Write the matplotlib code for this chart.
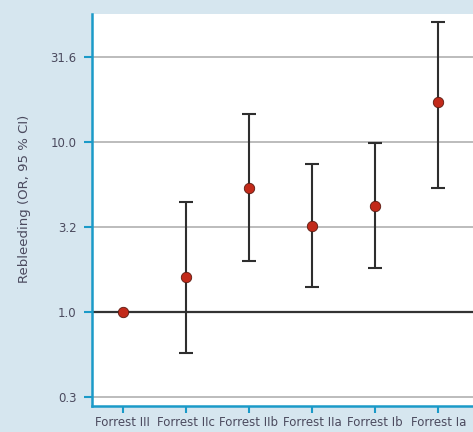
import matplotlib
matplotlib.use("Agg")
import matplotlib.pyplot as plt
import numpy as np

plt.rcParams['font.family'] = ['DejaVu Sans Condensed', 'Liberation Sans Narrow', 'DejaVu Sans']

# odds ratios with 95 % CI per Forrest class
classes = ["Forrest III", "Forrest IIc", "Forrest IIb", "Forrest IIa", "Forrest Ib", "Forrest Ia"]
odds = [1.0, 1.59, 5.37, 3.19, 4.19, 17.2]
ci_low = [1.0, 0.569, 1.98, 1.40, 1.81, 5.32]
ci_high = [1.0, 4.40, 14.6, 7.39, 9.79, 50.8]

ytick_vals = [10 ** -0.5, 1.0, 10 ** 0.5, 10.0, 10 ** 1.5]
ytick_labels = ["0.3", "1.0", "3.2", "10.0", "31.6"]

bg = "#d6e6ef"
blue = "#1b9ac8"
txt = "#4b4a5e"

fig = plt.figure(figsize=(4.73, 4.32), dpi=100, facecolor=bg)
ax = fig.add_axes([0.1945, 0.0602, 0.8055, 0.9074])
ax.set_facecolor("white")
ax.set_yscale("log")
ax.set_ylim(0.279, 56.4)
ax.set_xlim(-0.487, 5.55)

x = np.arange(len(classes))
odds = np.array(odds)
yerr = np.array([odds - np.array(ci_low), np.array(ci_high) - odds])

# reference lines
for v in ytick_vals:
    if v == 1.0:
        ax.axhline(v, color="#333333", lw=1.6, zorder=1)
    else:
        ax.axhline(v, color="#b0b0b0", lw=1.2, zorder=1)

ax.errorbar(x[1:], odds[1:], yerr=yerr[:, 1:], fmt="none", ecolor="#2e2e2e",
            elinewidth=1.5, capsize=5, capthick=1.5, zorder=2)
ax.plot(x, odds, "o", color="#c22a1a", markeredgecolor="#5a1a10",
        markeredgewidth=0.6, markersize=7.5, zorder=3)

ax.set_yticks(ytick_vals)
ax.set_yticklabels(ytick_labels)
ax.yaxis.set_minor_locator(matplotlib.ticker.NullLocator())
ax.set_xticks(x)
ax.set_xticklabels(classes)

for s in ["top", "right"]:
    ax.spines[s].set_visible(False)
for s in ["left", "bottom"]:
    ax.spines[s].set_color(blue)
    ax.spines[s].set_linewidth(1.8)

ax.tick_params(axis="both", colors=blue, width=1.5, labelcolor=txt, labelsize=8.5)
ax.tick_params(axis="y", length=6, pad=5)
ax.tick_params(axis="x", length=5, pad=2)

fig.text(0.052, 0.54, "Rebleeding (OR, 95 % CI)", rotation=90, va="center",
         ha="center", color=txt, fontsize=9.5)

fig.savefig("out.png", dpi=100, facecolor=bg)
